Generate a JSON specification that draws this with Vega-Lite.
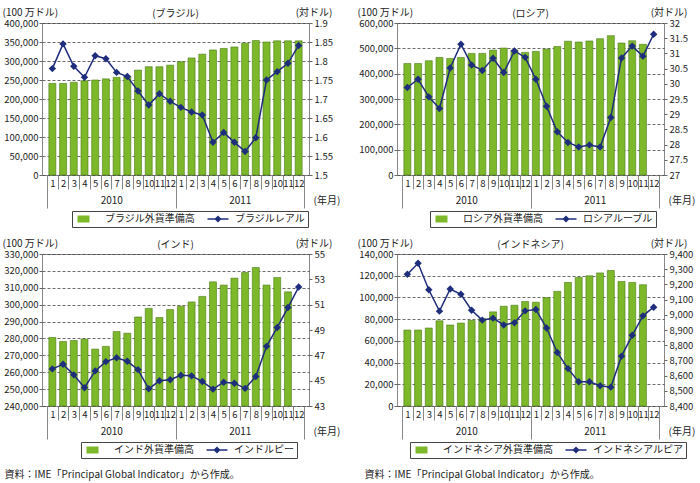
{
  "$schema": "https://vega.github.io/schema/vega-lite/v6.json",
  "padding": {"left": 1, "top": 6, "right": 5, "bottom": 5},
  "config": {
    "font": "Noto Sans CJK JP",
    "view": {"stroke": "#888", "strokeWidth": 1},
    "title": {"fontSize": 10, "fontWeight": "normal", "offset": -12, "color": "#222"},
    "axis": {"labelFontSize": 9.5, "titleFontSize": 10, "titleFontWeight": "normal", "labelColor": "#222", "titleColor": "#222", "tickColor": "#666", "grid": false},
    "axisY": {"titleAngle": 0, "titleY": -11, "titleBaseline": "middle", "tickSize": 3, "labelPadding": 2, "domain": false, "gridDash": [3, 2], "gridColor": "#444", "gridWidth": 0.8},
    "axisLeft": {"titleX": -40, "titleAlign": "left", "labelPadding": 1},
    "axisRight": {"titleX": 23, "titleAlign": "right"},
    "legend": {"labelFontSize": 10, "labelColor": "#222", "orient": "none", "direction": "horizontal", "strokeColor": "#444", "fillColor": "white", "padding": 3, "symbolSize": 16, "symbolOffset": 8, "labelOffset": 12, "columnPadding": 10, "symbolStrokeWidth": 0}
  },
  "spacing": 9,
  "resolve": {"scale": {"color": "independent", "x": "independent", "y": "independent"}},
  "vconcat": [
    {
      "spacing": 88,
      "bounds": "flush",
      "resolve": {"scale": {"color": "independent", "x": "independent", "y": "independent"}},
      "hconcat": [
        {
          "width": 267, "height": 152,
          "title": {"text": "(ブラジル)"},
          "data": {"values": [
            {"i": 1, "res": 241000, "fx": 1.78}, {"i": 2, "res": 241000, "fx": 1.845}, {"i": 3, "res": 244000, "fx": 1.786},
            {"i": 4, "res": 248000, "fx": 1.757}, {"i": 5, "res": 250000, "fx": 1.814}, {"i": 6, "res": 253000, "fx": 1.806},
            {"i": 7, "res": 257000, "fx": 1.77}, {"i": 8, "res": 260000, "fx": 1.759}, {"i": 9, "res": 276000, "fx": 1.721},
            {"i": 10, "res": 285000, "fx": 1.684}, {"i": 11, "res": 285000, "fx": 1.714}, {"i": 12, "res": 289000, "fx": 1.694},
            {"i": 13, "res": 298000, "fx": 1.678}, {"i": 14, "res": 308000, "fx": 1.666}, {"i": 15, "res": 318000, "fx": 1.658},
            {"i": 16, "res": 329000, "fx": 1.586}, {"i": 17, "res": 333000, "fx": 1.612}, {"i": 18, "res": 337000, "fx": 1.586},
            {"i": 19, "res": 347000, "fx": 1.562}, {"i": 20, "res": 354000, "fx": 1.598}, {"i": 21, "res": 350000, "fx": 1.75},
            {"i": 22, "res": 353000, "fx": 1.772}, {"i": 23, "res": 353000, "fx": 1.794}, {"i": 24, "res": 353000, "fx": 1.841}
          ]},
          "layer": [
            {
              "mark": {"type": "bar", "size": 7, "stroke": "#4b7a17", "strokeWidth": 0.6},
              "encoding": {
                "x": {"field": "i", "type": "quantitative", "scale": {"domain": [0.5, 24.5], "nice": false, "zero": false},
                  "axis": {"orient": "bottom", "values": [1,2,3,4,5,6,7,8,9,10,11,12,13,14,15,16,17,18,19,20,21,22,23,24], "labelExpr": "'' + (datum.value > 12 ? datum.value - 12 : datum.value)", "ticks": false, "domain": false, "labelPadding": 3, "labelOverlap": false, "labelBound": false, "labelFlush": false, "title": null}},
                "y": {"field": "res", "type": "quantitative", "scale": {"domain": [0, 400000], "nice": false, "zero": false},
                  "axis": {"values": [0,50000,100000,150000,200000,250000,300000,350000,400000], "format": ",.0f", "grid": true, "title": "(100 万ドル)"}},
                "color": {"datum": "ブラジル外貨準備高", "type": "nominal", "scale": {"domain": ["ブラジル外貨準備高", "ブラジルレアル"], "range": ["#7cb82a", "#1e2d7c"]},
                  "legend": {"legendX": 30, "legendY": 188, "title": null,
                    "symbolType": {"expr": "datum.value == 'ブラジルレアル' ? 'M-5.25,-0.4H5.25V0.4H-5.25Z M0,-1.8L1.8,0L0,1.8L-1.8,0Z' : 'M-5.25,-1.75H0.75V1.75H-5.25Z'"}}}
              }
            },
            {
              "mark": {"type": "line", "strokeWidth": 1.5, "point": {"shape": "diamond", "filled": true, "size": 55}},
              "encoding": {
                "x": {"field": "i", "type": "quantitative",
                  "axis": {"orient": "bottom", "values": [0.5,1.5,2.5,3.5,4.5,5.5,6.5,7.5,8.5,9.5,10.5,11.5,12.5,13.5,14.5,15.5,16.5,17.5,18.5,19.5,20.5,21.5,22.5,23.5,24.5],
                    "tickSize": {"condition": {"test": "datum.value == 0.5 || datum.value == 12.5 || datum.value == 24.5", "value": 33}, "value": 14},
                    "tickColor": "#888", "domain": false, "labelExpr": "datum.value == 6.5 ? '2010' : datum.value == 18.5 ? '2011' : ''", "labelFontSize": 10, "labelPadding": 6, "labelOverlap": false, "labelBound": false, "labelFlush": false,
                    "title": "(年月)", "titleX": 271, "titleY": 25, "titleAlign": "left", "titleBaseline": "middle", "titleAngle": 0}},
                "y": {"field": "fx", "type": "quantitative", "scale": {"domain": [1.5, 1.9], "nice": false, "zero": false},
                  "axis": {"orient": "right", "values": [1.5,1.55,1.6,1.65,1.7,1.75,1.8,1.85,1.9], "labelExpr": "datum.value + ''", "title": "(対ドル)"}},
                "color": {"datum": "ブラジルレアル", "type": "nominal"}
              }
            }
          ],
          "resolve": {"scale": {"y": "independent"}, "axis": {"x": "independent"}}
        },
        {
          "width": 267, "height": 152,
          "title": {"text": "(ロシア)"},
          "data": {"values": [
            {"i": 1, "res": 440000, "fx": 29.88}, {"i": 2, "res": 440000, "fx": 30.15}, {"i": 3, "res": 451000, "fx": 29.57},
            {"i": 4, "res": 464000, "fx": 29.19}, {"i": 5, "res": 460000, "fx": 30.52}, {"i": 6, "res": 464000, "fx": 31.3},
            {"i": 7, "res": 480000, "fx": 30.62}, {"i": 8, "res": 480000, "fx": 30.44}, {"i": 9, "res": 493000, "fx": 30.84},
            {"i": 10, "res": 501000, "fx": 30.37}, {"i": 11, "res": 493000, "fx": 31.08}, {"i": 12, "res": 484000, "fx": 30.87},
            {"i": 13, "res": 488000, "fx": 30.15}, {"i": 14, "res": 497000, "fx": 29.26}, {"i": 15, "res": 507000, "fx": 28.42},
            {"i": 16, "res": 528000, "fx": 28.07}, {"i": 17, "res": 525000, "fx": 27.92}, {"i": 18, "res": 529000, "fx": 27.99},
            {"i": 19, "res": 538000, "fx": 27.92}, {"i": 20, "res": 550000, "fx": 28.89}, {"i": 21, "res": 521000, "fx": 30.85},
            {"i": 22, "res": 530000, "fx": 31.24}, {"i": 23, "res": 516000, "fx": 30.91}, {"i": 24, "res": null, "fx": 31.63}
          ]},
          "layer": [
            {
              "mark": {"type": "bar", "size": 7, "stroke": "#4b7a17", "strokeWidth": 0.6},
              "encoding": {
                "x": {"field": "i", "type": "quantitative", "scale": {"domain": [0.5, 24.5], "nice": false, "zero": false},
                  "axis": {"orient": "bottom", "values": [1,2,3,4,5,6,7,8,9,10,11,12,13,14,15,16,17,18,19,20,21,22,23,24], "labelExpr": "'' + (datum.value > 12 ? datum.value - 12 : datum.value)", "ticks": false, "domain": false, "labelPadding": 3, "labelOverlap": false, "labelBound": false, "labelFlush": false, "title": null}},
                "y": {"field": "res", "type": "quantitative", "scale": {"domain": [0, 600000], "nice": false, "zero": false},
                  "axis": {"values": [0,100000,200000,300000,400000,500000,600000], "format": ",.0f", "grid": true, "title": "(100 万ドル)"}},
                "color": {"datum": "ロシア外貨準備高", "type": "nominal", "scale": {"domain": ["ロシア外貨準備高", "ロシアルーブル"], "range": ["#7cb82a", "#1e2d7c"]},
                  "legend": {"legendX": 33, "legendY": 188, "title": null,
                    "symbolType": {"expr": "datum.value == 'ロシアルーブル' ? 'M-5.25,-0.4H5.25V0.4H-5.25Z M0,-1.8L1.8,0L0,1.8L-1.8,0Z' : 'M-5.25,-1.75H0.75V1.75H-5.25Z'"}}}
              }
            },
            {
              "mark": {"type": "line", "strokeWidth": 1.5, "point": {"shape": "diamond", "filled": true, "size": 55}},
              "encoding": {
                "x": {"field": "i", "type": "quantitative",
                  "axis": {"orient": "bottom", "values": [0.5,1.5,2.5,3.5,4.5,5.5,6.5,7.5,8.5,9.5,10.5,11.5,12.5,13.5,14.5,15.5,16.5,17.5,18.5,19.5,20.5,21.5,22.5,23.5,24.5],
                    "tickSize": {"condition": {"test": "datum.value == 0.5 || datum.value == 12.5 || datum.value == 24.5", "value": 33}, "value": 14},
                    "tickColor": "#888", "domain": false, "labelExpr": "datum.value == 6.5 ? '2010' : datum.value == 18.5 ? '2011' : ''", "labelFontSize": 10, "labelPadding": 6, "labelOverlap": false, "labelBound": false, "labelFlush": false,
                    "title": "(年月)", "titleX": 271, "titleY": 25, "titleAlign": "left", "titleBaseline": "middle", "titleAngle": 0}},
                "y": {"field": "fx", "type": "quantitative", "scale": {"domain": [27, 32], "nice": false, "zero": false},
                  "axis": {"orient": "right", "values": [27,27.5,28,28.5,29,29.5,30,30.5,31,31.5,32], "labelExpr": "datum.value + ''", "title": "(対ドル)"}},
                "color": {"datum": "ロシアルーブル", "type": "nominal"}
              }
            }
          ],
          "resolve": {"scale": {"y": "independent"}, "axis": {"x": "independent"}}
        }
      ]
    },
    {
      "spacing": 88,
      "bounds": "flush",
      "resolve": {"scale": {"color": "independent", "x": "independent", "y": "independent"}},
      "hconcat": [
        {
          "width": 267, "height": 152,
          "title": {"text": "(インド)"},
          "data": {"values": [
            {"i": 1, "res": 280600, "fx": 45.93}, {"i": 2, "res": 278200, "fx": 46.29}, {"i": 3, "res": 278800, "fx": 45.46},
            {"i": 4, "res": 279600, "fx": 44.44}, {"i": 5, "res": 273700, "fx": 45.77}, {"i": 6, "res": 275300, "fx": 46.5},
            {"i": 7, "res": 284100, "fx": 46.81}, {"i": 8, "res": 283100, "fx": 46.53}, {"i": 9, "res": 292700, "fx": 45.87},
            {"i": 10, "res": 297800, "fx": 44.36}, {"i": 11, "res": 292400, "fx": 44.99}, {"i": 12, "res": 297100, "fx": 45.07},
            {"i": 13, "res": 299000, "fx": 45.43}, {"i": 14, "res": 301600, "fx": 45.38}, {"i": 15, "res": 304900, "fx": 44.93},
            {"i": 16, "res": 313500, "fx": 44.33}, {"i": 17, "res": 311600, "fx": 44.88}, {"i": 18, "res": 315700, "fx": 44.8},
            {"i": 19, "res": 319000, "fx": 44.39}, {"i": 20, "res": 322000, "fx": 45.33}, {"i": 21, "res": 311600, "fx": 47.71},
            {"i": 22, "res": 316100, "fx": 49.2}, {"i": 23, "res": 307600, "fx": 50.77}, {"i": 24, "res": null, "fx": 52.39}
          ]},
          "layer": [
            {
              "mark": {"type": "bar", "size": 7, "stroke": "#4b7a17", "strokeWidth": 0.6},
              "encoding": {
                "x": {"field": "i", "type": "quantitative", "scale": {"domain": [0.5, 24.5], "nice": false, "zero": false},
                  "axis": {"orient": "bottom", "values": [1,2,3,4,5,6,7,8,9,10,11,12,13,14,15,16,17,18,19,20,21,22,23,24], "labelExpr": "'' + (datum.value > 12 ? datum.value - 12 : datum.value)", "ticks": false, "domain": false, "labelPadding": 3, "labelOverlap": false, "labelBound": false, "labelFlush": false,
                    "title": "資料：IME「Principal Global Indicator」から作成。", "titleX": -38, "titleY": 68, "titleAlign": "left", "titleBaseline": "middle", "titleAngle": 0}},
                "y": {"field": "res", "type": "quantitative", "scale": {"domain": [240000, 330000], "nice": false, "zero": false},
                  "axis": {"values": [240000,250000,260000,270000,280000,290000,300000,310000,320000,330000], "format": ",.0f", "grid": true, "title": "(100 万ドル)"}},
                "y2": {"datum": 240000},
                "color": {"datum": "インド外貨準備高", "type": "nominal", "scale": {"domain": ["インド外貨準備高", "インドルピー"], "range": ["#7cb82a", "#1e2d7c"]},
                  "legend": {"legendX": 39, "legendY": 188, "title": null,
                    "symbolType": {"expr": "datum.value == 'インドルピー' ? 'M-5.25,-0.4H5.25V0.4H-5.25Z M0,-1.8L1.8,0L0,1.8L-1.8,0Z' : 'M-5.25,-1.75H0.75V1.75H-5.25Z'"}}}
              }
            },
            {
              "mark": {"type": "line", "strokeWidth": 1.5, "point": {"shape": "diamond", "filled": true, "size": 55}},
              "encoding": {
                "x": {"field": "i", "type": "quantitative",
                  "axis": {"orient": "bottom", "values": [0.5,1.5,2.5,3.5,4.5,5.5,6.5,7.5,8.5,9.5,10.5,11.5,12.5,13.5,14.5,15.5,16.5,17.5,18.5,19.5,20.5,21.5,22.5,23.5,24.5],
                    "tickSize": {"condition": {"test": "datum.value == 0.5 || datum.value == 12.5 || datum.value == 24.5", "value": 33}, "value": 14},
                    "tickColor": "#888", "domain": false, "labelExpr": "datum.value == 6.5 ? '2010' : datum.value == 18.5 ? '2011' : ''", "labelFontSize": 10, "labelPadding": 6, "labelOverlap": false, "labelBound": false, "labelFlush": false,
                    "title": "(年月)", "titleX": 271, "titleY": 25, "titleAlign": "left", "titleBaseline": "middle", "titleAngle": 0}},
                "y": {"field": "fx", "type": "quantitative", "scale": {"domain": [43, 55], "nice": false, "zero": false},
                  "axis": {"orient": "right", "values": [43,45,47,49,51,53,55], "labelExpr": "datum.value + ''", "title": "(対ドル)"}},
                "color": {"datum": "インドルピー", "type": "nominal"}
              }
            }
          ],
          "resolve": {"scale": {"y": "independent"}, "axis": {"x": "independent"}}
        },
        {
          "width": 267, "height": 152,
          "title": {"text": "(インドネシア)"},
          "data": {"values": [
            {"i": 1, "res": 70000, "fx": 9267}, {"i": 2, "res": 70000, "fx": 9339}, {"i": 3, "res": 71800, "fx": 9165},
            {"i": 4, "res": 78500, "fx": 9024}, {"i": 5, "res": 74600, "fx": 9170}, {"i": 6, "res": 76400, "fx": 9135},
            {"i": 7, "res": 78800, "fx": 9030}, {"i": 8, "res": 80500, "fx": 8965}, {"i": 9, "res": 86700, "fx": 8978},
            {"i": 10, "res": 91900, "fx": 8933}, {"i": 11, "res": 92800, "fx": 8948}, {"i": 12, "res": 96200, "fx": 9026},
            {"i": 13, "res": 95600, "fx": 9035}, {"i": 14, "res": 99800, "fx": 8913}, {"i": 15, "res": 105600, "fx": 8752},
            {"i": 16, "res": 113800, "fx": 8646}, {"i": 17, "res": 118400, "fx": 8559}, {"i": 18, "res": 119900, "fx": 8559},
            {"i": 19, "res": 122600, "fx": 8533}, {"i": 20, "res": 124800, "fx": 8524}, {"i": 21, "res": 114700, "fx": 8728},
            {"i": 22, "res": 113800, "fx": 8865}, {"i": 23, "res": 111700, "fx": 8993}, {"i": 24, "res": null, "fx": 9050}
          ]},
          "layer": [
            {
              "mark": {"type": "bar", "size": 7, "stroke": "#4b7a17", "strokeWidth": 0.6},
              "encoding": {
                "x": {"field": "i", "type": "quantitative", "scale": {"domain": [0.5, 24.5], "nice": false, "zero": false},
                  "axis": {"orient": "bottom", "values": [1,2,3,4,5,6,7,8,9,10,11,12,13,14,15,16,17,18,19,20,21,22,23,24], "labelExpr": "'' + (datum.value > 12 ? datum.value - 12 : datum.value)", "ticks": false, "domain": false, "labelPadding": 3, "labelOverlap": false, "labelBound": false, "labelFlush": false,
                    "title": "資料：IME「Principal Global Indicator」から作成。", "titleX": -33, "titleY": 68, "titleAlign": "left", "titleBaseline": "middle", "titleAngle": 0}},
                "y": {"field": "res", "type": "quantitative", "scale": {"domain": [0, 140000], "nice": false, "zero": false},
                  "axis": {"values": [0,20000,40000,60000,80000,100000,120000,140000], "format": ",.0f", "grid": true, "title": "(100 万ドル)"}},
                "color": {"datum": "インドネシア外貨準備高", "type": "nominal", "scale": {"domain": ["インドネシア外貨準備高", "インドネシアルピア"], "range": ["#7cb82a", "#1e2d7c"]},
                  "legend": {"legendX": 13, "legendY": 188, "title": null,
                    "symbolType": {"expr": "datum.value == 'インドネシアルピア' ? 'M-5.25,-0.4H5.25V0.4H-5.25Z M0,-1.8L1.8,0L0,1.8L-1.8,0Z' : 'M-5.25,-1.75H0.75V1.75H-5.25Z'"}}}
              }
            },
            {
              "mark": {"type": "line", "strokeWidth": 1.5, "point": {"shape": "diamond", "filled": true, "size": 55}},
              "encoding": {
                "x": {"field": "i", "type": "quantitative",
                  "axis": {"orient": "bottom", "values": [0.5,1.5,2.5,3.5,4.5,5.5,6.5,7.5,8.5,9.5,10.5,11.5,12.5,13.5,14.5,15.5,16.5,17.5,18.5,19.5,20.5,21.5,22.5,23.5,24.5],
                    "tickSize": {"condition": {"test": "datum.value == 0.5 || datum.value == 12.5 || datum.value == 24.5", "value": 33}, "value": 14},
                    "tickColor": "#888", "domain": false, "labelExpr": "datum.value == 6.5 ? '2010' : datum.value == 18.5 ? '2011' : ''", "labelFontSize": 10, "labelPadding": 6, "labelOverlap": false, "labelBound": false, "labelFlush": false,
                    "title": "(年月)", "titleX": 271, "titleY": 25, "titleAlign": "left", "titleBaseline": "middle", "titleAngle": 0}},
                "y": {"field": "fx", "type": "quantitative", "scale": {"domain": [8400, 9400], "nice": false, "zero": false},
                  "axis": {"orient": "right", "values": [8400,8500,8600,8700,8800,8900,9000,9100,9200,9300,9400], "format": ",.0f", "title": "(対ドル)"}},
                "color": {"datum": "インドネシアルピア", "type": "nominal"}
              }
            }
          ],
          "resolve": {"scale": {"y": "independent"}, "axis": {"x": "independent"}}
        }
      ]
    }
  ]
}
